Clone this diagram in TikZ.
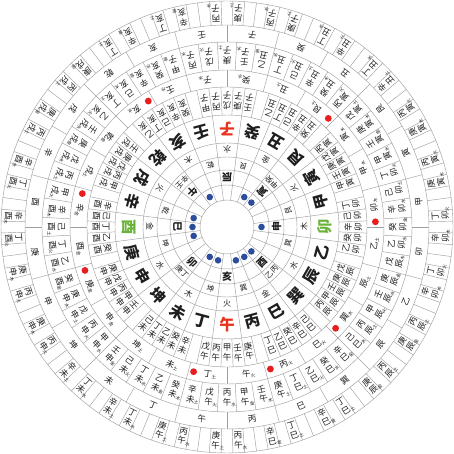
\documentclass[tikz,border=0pt]{standalone}
\usepackage{fontspec}
\usepackage{xcolor}
\usepackage{tikz}
\newfontfamily\cjk{Noto Sans CJK SC}
\definecolor{LineGray}{HTML}{A0A0A0}
\definecolor{ShanRed}{HTML}{E8321E}
\definecolor{ShanGreen}{HTML}{6BB23A}
\definecolor{DotRed}{HTML}{E81E1E}
\definecolor{DotBlue}{HTML}{2C4C9E}
\definecolor{InkBlack}{HTML}{1E1E1E}

% tiangan, dizhi, 24 shan
\newcommand{\tg}[1]{\ifcase#1 甲\or 乙\or 丙\or 丁\or 戊\or 己\or 庚\or 辛\or 壬\or 癸\fi}
\newcommand{\dz}[1]{\ifcase#1 子\or 丑\or 寅\or 卯\or 辰\or 巳\or 午\or 未\or 申\or 酉\or 戌\or 亥\fi}
\newcommand{\shan}[1]{\ifcase#1 子\or 癸\or 丑\or 艮\or 寅\or 甲\or 卯\or 乙\or 辰\or 巽\or 巳\or 丙\or 午\or 丁\or 未\or 坤\or 申\or 庚\or 酉\or 辛\or 戌\or 乾\or 亥\or 壬\fi}
\newcommand{\sanhe}[1]{\ifcase#1 水\or 金\or 火\or 木\or 水\or 金\or 火\or 木\or 水\or 金\or 火\or 木\fi}
\newcommand{\zxw}[1]{\ifcase#1 水\or 水\or 土\or 土\or 木\or 木\or 木\or 土\or 土\or 木\or 火\or 火\or 火\or 土\or 土\or 土\or 金\or 金\or 金\or 金\or 土\or 金\or 水\or 水\fi}
\newcommand{\nayin}[1]{\ifcase#1 金\or 火\or 木\or 土\or 金\or 火\or 水\or 土\or 金\or 木\or 水\or 土\or 火\or 木\or 水\or 金\or 火\or 木\or 土\or 金\or 火\or 水\or 土\or 金\or 木\or 水\or 土\or 火\or 木\or 水\fi}
\newcommand{\tinyel}{\fontsize{4.5}{5}\selectfont}
\newcommand{\elem}[1]{\rlap{\raisebox{-1pt}{\tinyel #1}}}

\tikzset{
  ring/.style={draw=LineGray, line width=0.45pt},
  shanbig/.style={font=\cjk\bfseries\fontsize{15.5}{15.5}\selectfont, inner sep=0pt},
  shawords/.style={font=\cjk\bfseries\fontsize{10}{10}\selectfont, inner sep=0pt, text=InkBlack},
  huangquan/.style={font=\cjk\fontsize{7.5}{7.5}\selectfont, inner sep=0pt, text=InkBlack},
  sanhe/.style={font=\cjk\fontsize{8}{8}\selectfont, inner sep=0pt, text=InkBlack},
  jiazi/.style={font=\cjk\fontsize{8.5}{10}\selectfont, inner sep=0pt, align=center, text=InkBlack},
  needle/.style={font=\cjk\fontsize{8.5}{8.5}\selectfont, inner sep=0pt, text=InkBlack},
}

\begin{document}
\begin{tikzpicture}[x=1pt,y=1pt]
\useasboundingbox (-227,-227) rectangle (227,227);
\fill[white] (-227,-227) rectangle (227,227);

% circles
\foreach \r in {27,42,57,70,84,112,140,157,185,202,226}
  \draw[ring] (0,0) circle (\r pt);

% dividers
\foreach \k in {0,...,23}{
  \draw[ring] (7.5+15*\k:27pt) -- (7.5+15*\k:112pt);
  \draw[ring] (15*\k:140pt) -- (15*\k:157pt);
  \draw[ring] (15*\k:185pt) -- (15*\k:202pt);
}
\foreach \k in {0,...,71} \draw[ring] (2.5+5*\k:112pt) -- (2.5+5*\k:140pt);
\foreach \k in {0,...,59} \draw[ring] (3+6*\k:157pt) -- (3+6*\k:185pt);
\foreach \k in {0,...,119} \draw[ring] (1.5+3*\k:202pt) -- (1.5+3*\k:226pt);

% blue dots
\foreach \a in {120,60,45,165,180,195,0,315,300,285,240,255}
  \fill[DotBlue] (\a:34.5pt) circle (3.3pt);

% ba sha
\foreach \a/\t in {90/辰,45/寅,0/申,-45/酉,-90/亥,-135/卯,180/巳,135/午}
  \node[shawords, rotate=\a+90] (sha\a) at (\a:49.5pt) {\t};

% huang quan
\foreach \a/\t in {105/乾,75/艮,45/甲癸,15/艮,-15/巽,-45/乙丙,-75/巽,-105/坤,-135/庚丁,-165/坤,165/乾,135/辛壬}
  \node[huangquan, rotate=\a+90] (hq\a) at (\a:63.5pt) {\t};

% san he wu xing
\foreach \b in {0,...,11}{
  \pgfmathsetmacro\a{90-30*\b}
  \node[sanhe, rotate=\a+90] (sh\b) at (\a:77pt) {\sanhe{\b}};
}

% 24 shan
\foreach \i in {0,...,23}{
  \pgfmathsetmacro\a{90-15*\i}
  \def\c{InkBlack}
  \ifnum\i=0 \def\c{ShanRed}\fi
  \ifnum\i=12 \def\c{ShanRed}\fi
  \ifnum\i=6 \def\c{ShanGreen}\fi
  \ifnum\i=18 \def\c{ShanGreen}\fi
  \node[shanbig, text=\c, rotate=\a+90] (shan\i) at (\a:98pt) {\shan{\i}};
}

% 72 long and 60 long
\foreach \b in {0,...,11}{
  \foreach \j in {0,...,4}{
    \pgfmathsetmacro\a{90-30*\b+10-5*\j}
    \pgfmathsetmacro\aa{90-30*\b+18-6*\j}
    \pgfmathtruncatemacro\s{mod(\b+2*\j,10)}
    \pgfmathtruncatemacro\p{floor((\s+10*mod(5*(\b-\s)/2+30,6))/2)}
    \node[jiazi, rotate=\a+90] (qs\b-\j) at (\a:126pt) {\tg{\s}\\\dz{\b}};
    \node[jiazi, rotate=\aa+90] (td\b-\j) at (\aa:171pt) {\tg{\s}\\\dz{\b}\elem{\nayin{\p}}};
  }
}

% zhong zhen and feng zhen
\foreach \i in {0,...,23}{
  \pgfmathsetmacro\a{90-15*\i+7.5}
  \pgfmathsetmacro\aa{90-15*\i-7.5}
  \node[needle, rotate=\a+90] (zz\i) at (\a:148.5pt) {\shan{\i}\elem{\zxw{\i}}};
  \node[needle, rotate=\aa+90] (fz\i) at (\aa:193.5pt) {\shan{\i}};
}

% red dots
\foreach \i in {22,3,19,6,17,9,13,11}
  \fill[DotRed] (90-15*\i+2:148.5pt) circle (3.4pt);

% fen jin
\foreach \i in {0,...,23}{
  \pgfmathsetmacro\a{90-15*\i}
  \pgfmathtruncatemacro\b{floor(\i/2)}
  \pgfmathtruncatemacro\sa{2+mod(\b,2)}
  \pgfmathtruncatemacro\sb{6+mod(\b,2)}
  \pgfmathtruncatemacro\pa{floor((\sa+10*mod(5*(\b-\sa)/2+30,6))/2)}
  \pgfmathtruncatemacro\pb{floor((\sb+10*mod(5*(\b-\sb)/2+30,6))/2)}
  \node[jiazi, rotate=\a+93] (fa\i) at (\a+3:214pt) {\tg{\sa}\\\dz{\b}\elem{\nayin{\pa}}};
  \node[jiazi, rotate=\a+87] (fb\i) at (\a-3:214pt) {\tg{\sb}\\\dz{\b}\elem{\nayin{\pb}}};
}
\end{tikzpicture}
\end{document}
